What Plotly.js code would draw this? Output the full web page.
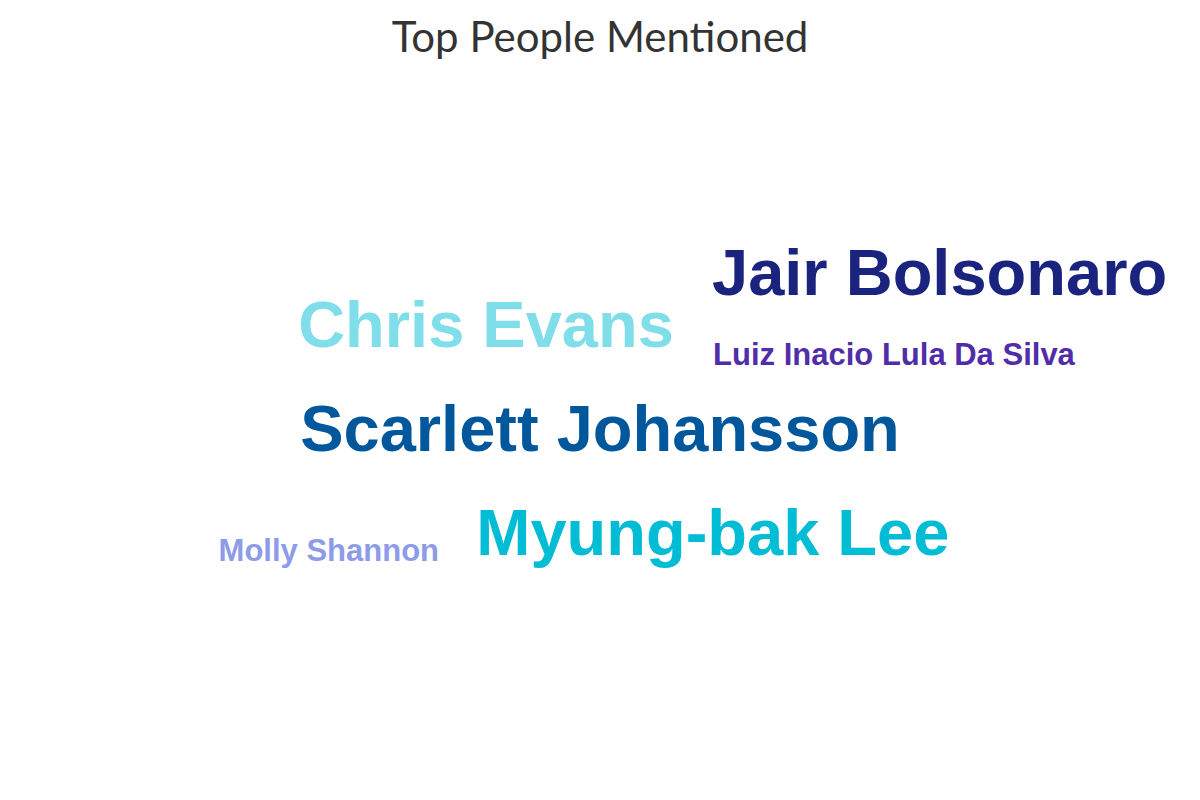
<!DOCTYPE html>
<html>
<head>
<meta charset="utf-8">
<script src="https://cdn.plot.ly/plotly-3.0.1.min.js"></script>
<style>html,body{margin:0;padding:0;background:#fff;}#chart{width:1200px;height:800px;}</style>
</head>
<body>
<div id="chart"></div>
<script>
var names = ["Jair Bolsonaro", "Chris Evans", "Luiz Inacio Lula Da Silva", "Scarlett Johansson", "Myung-bak Lee", "Molly Shannon"];
var weights = [65, 65, 31, 65, 65, 31];
var posX = [78.3, 40.5, 74.5, 50.0, 59.4, 27.4];
var posY = [65.1, 58.7, 55.4, 45.6, 32.6, 30.9];
var colors = ["#1a237e", "#80deea", "#512da8", "#01579b", "#00bcd4", "#8e9be8"];

var trace = {
  type: "scatter",
  mode: "text",
  x: posX,
  y: posY,
  text: names,
  textposition: "middle center",
  textfont: {
    family: "Liberation Sans, Arial, sans-serif",
    size: weights,
    color: colors,
    weight: "bold"
  },
  hoverinfo: "text",
  showlegend: false
};

var layout = {
  width: 1200,
  height: 800,
  margin: {l: 0, r: 0, t: 0, b: 0},
  paper_bgcolor: "#ffffff",
  plot_bgcolor: "#ffffff",
  title: {
    text: "Top People Mentioned",
    font: {family: "Lato, sans-serif", size: 42, color: "#333333"},
    x: 0.5, xanchor: "center",
    y: 0.953, yref: "container", yanchor: "middle"
  },
  xaxis: {range: [0, 100], visible: false, fixedrange: true},
  yaxis: {range: [0, 100], visible: false, fixedrange: true}
};

Plotly.newPlot("chart", [trace], layout, {displayModeBar: false, staticPlot: true});
</script>
</body>
</html>
